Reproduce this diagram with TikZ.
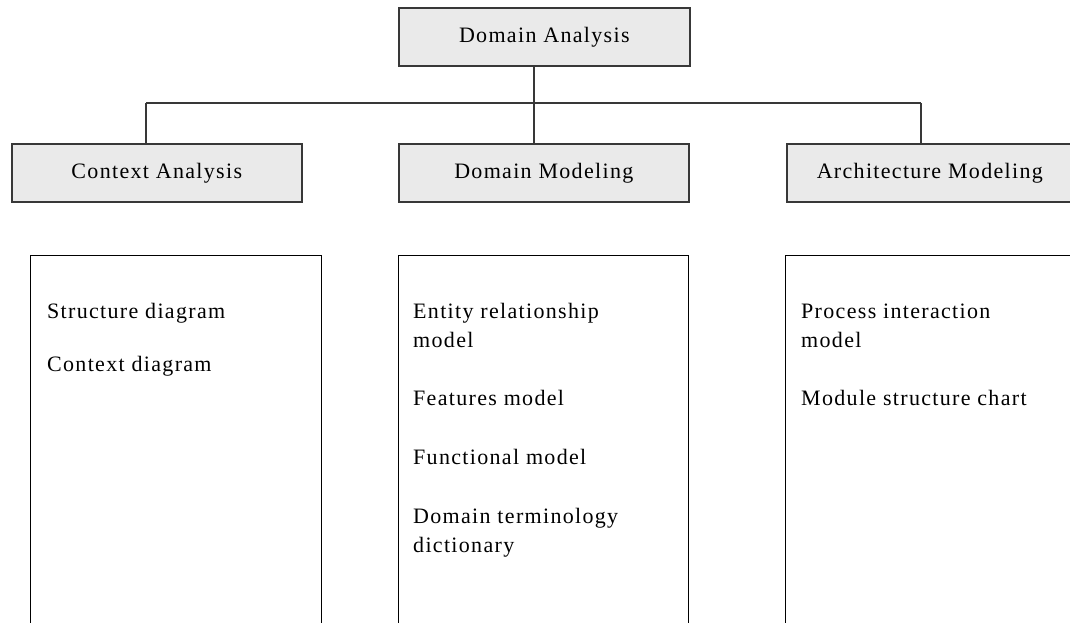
\documentclass[tikz,border=0pt]{standalone}
\usepackage{fontspec}
\setmainfont{Liberation Serif}[LetterSpace=6]
\definecolor{headfill}{HTML}{EAEAEA}
\definecolor{framegray}{HTML}{383838}
% two-line entry whose reference point is the baseline of its first line
\newcommand{\twolines}[2]{\vtop{\hbox{#1}\hbox{#2}}}
\begin{document}
\begin{tikzpicture}[x=1pt, y=-1pt,
  font=\fontsize{22}{29.3}\selectfont,
  headbox/.style={draw=framegray, line width=1.6pt, fill=headfill,
    minimum height=58pt, inner sep=0pt, anchor=north west},
  listbox/.style={draw=black, line width=1.1pt, minimum height=420pt,
    inner sep=0pt, anchor=north west},
  item/.style={anchor=base west, inner sep=0pt},
  link/.style={draw=framegray, line width=1.6pt}]
  \clip (0,0) rectangle (1070,622);

  % top-level activity
  \node[headbox, minimum width=291pt] (da) at (398,7) {Domain Analysis};

  % three sub-activities
  \node[headbox, minimum width=290pt] (ca) at (11,143)  {Context Analysis};
  \node[headbox, minimum width=290pt] (dm) at (398,143) {Domain Modeling};
  \node[headbox, minimum width=286pt] (am) at (786,143) {Architecture Modeling};

  % tree connectors
  \coordinate (busL) at (146,103);
  \coordinate (busM) at (534,103);
  \coordinate (busR) at (921,103);
  \draw[link] (busL) -- (busR);
  \draw[link] (da.south -| busM) -- (dm.north -| busM);
  \draw[link] (busL) -- (ca.north -| busL);
  \draw[link] (busR) -- (am.north -| busR);

  % product lists
  \node[listbox, minimum width=291pt] (caList) at (30,255) {};
  \node[listbox, minimum width=290pt] (dmList) at (398,255) {};
  \node[listbox, minimum width=300pt] (amList) at (785,255) {};

  \node[item] (ca1) at (47,318)    {Structure diagram};
  \node[item] (ca2) at (47,371)    {Context diagram};

  \node[item] (dm1) at (413,318)   {\twolines{Entity relationship}{model}};
  \node[item] (dm2) at (413,405.9) {Features model};
  \node[item] (dm3) at (413,464.5) {Functional model};
  \node[item] (dm4) at (413,523.1) {\twolines{Domain terminology}{dictionary}};

  \node[item] (am1) at (801,318)   {\twolines{Process interaction}{model}};
  \node[item] (am2) at (801,405.9) {Module structure chart};
\end{tikzpicture}
\end{document}
